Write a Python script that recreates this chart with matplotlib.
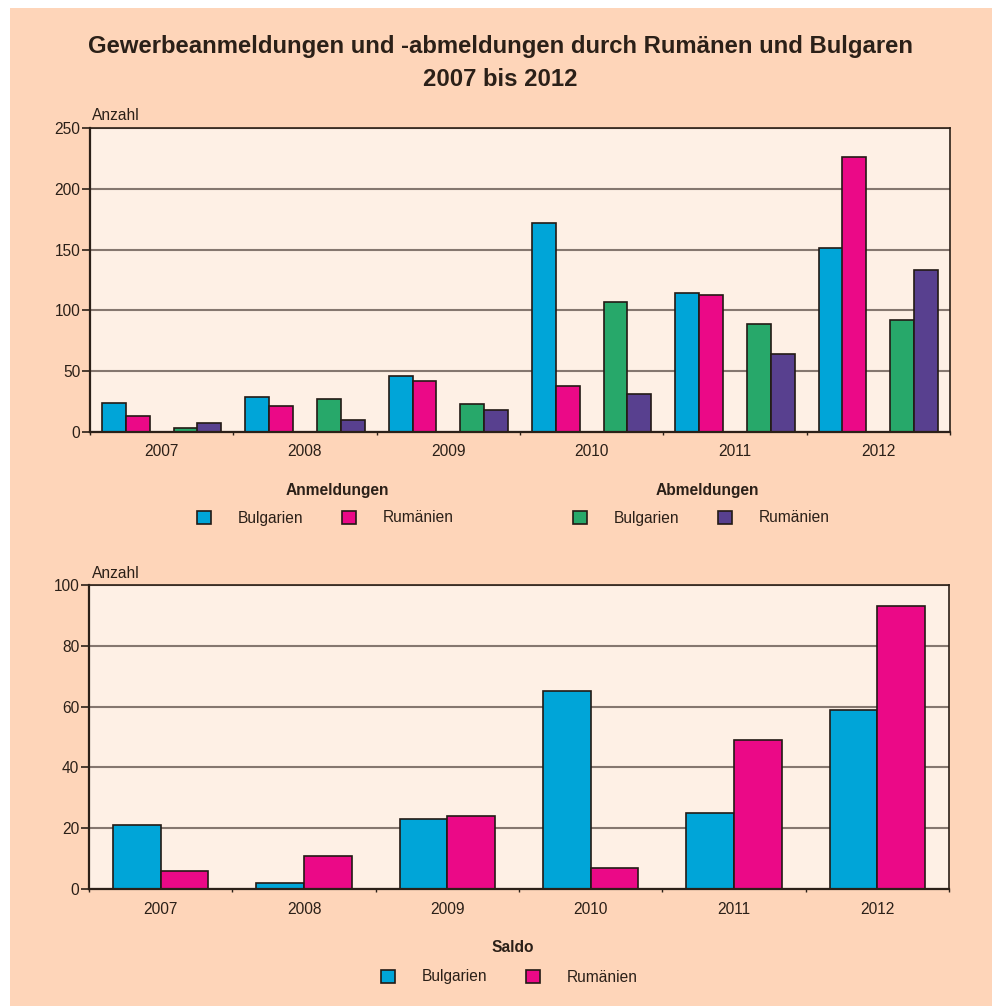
import matplotlib
matplotlib.use("Agg")
import matplotlib.pyplot as plt
import numpy as np
from matplotlib.patches import Patch, Rectangle

# ===== Data =====
YEARS = ["2007", "2008", "2009", "2010", "2011", "2012"]

ANM_BULGARIEN = [24, 29, 46, 172, 114, 151]
ANM_RUMAENIEN = [13, 21, 42, 38, 113, 226]
ABM_BULGARIEN = [3, 27, 23, 107, 89, 92]
ABM_RUMAENIEN = [7, 10, 18, 31, 64, 133]

SALDO_BULGARIEN = [21, 2, 23, 65, 25, 59]
SALDO_RUMAENIEN = [6, 11, 24, 7, 49, 93]

TOP_TICKS = [0, 50, 100, 150, 200, 250]
BOTTOM_TICKS = [0, 20, 40, 60, 80, 100]

# ===== Style =====
BLUE = "#00A5D8"
MAGENTA = "#EB0987"
GREEN = "#27A86A"
PURPLE = "#58408F"
PEACH = "#FED5B9"
PANEL = "#FEF0E5"
INK = "#2B2018"
EDGE = "#231A15"
GRID = "#85776F"

W, H = 992, 1006
FS = 11.2

plt.rcParams["font.family"] = ["Liberation Sans", "DejaVu Sans"]
plt.rcParams["text.color"] = INK

fig = plt.figure(figsize=(W / 100, H / 100), dpi=100, facecolor="white")
fig.patches.append(
    Rectangle((10 / W, 0), 1 - 10 / W, 1 - 8 / H, transform=fig.transFigure,
              facecolor=PEACH, edgecolor="none", zorder=-10)
)


def fx(px):
    return px / W


def fy(py):
    return 1 - py / H


def style_axes(ax, ticks):
    ax.set_facecolor(PANEL)
    ax.set_xlim(-0.5, len(YEARS) - 0.5)
    ax.set_ylim(ticks[0], ticks[-1])
    ax.set_yticks(ticks)
    ax.set_xticks(np.arange(len(YEARS)))
    ax.set_xticklabels(YEARS)
    ax.set_xticks(np.arange(len(YEARS) + 1) - 0.5, minor=True)
    ax.tick_params(axis="x", which="major", length=0, pad=9, labelsize=FS, colors=INK)
    ax.tick_params(axis="x", which="minor", length=2, width=1.0, color=INK)
    ax.tick_params(axis="y", length=6, width=1.2, pad=1, labelsize=FS, colors=INK)
    ax.yaxis.grid(True, color=GRID, linewidth=1.5)
    ax.set_axisbelow(True)
    for name, sp in ax.spines.items():
        sp.set_color(INK)
        sp.set_linewidth(1.6 if name in ("left", "bottom") else 1.2)
        sp.set_zorder(5)


def bar_kw(color):
    return dict(color=color, edgecolor=EDGE, linewidth=1.2, zorder=3)


def make_legend(colors, labels, x_px, y_px):
    handles = [Patch(facecolor=c, edgecolor=EDGE, linewidth=1.2) for c in colors]
    return fig.legend(
        handles, labels, loc="center left", bbox_to_anchor=(fx(x_px), fy(y_px)),
        bbox_transform=fig.transFigure, ncol=len(labels), frameon=False,
        fontsize=FS, handlelength=0.9, handleheight=0.9, handletextpad=1.7,
        columnspacing=2.5, borderpad=0, borderaxespad=0,
    )


x = np.arange(len(YEARS))

# ===== Top chart: Anmeldungen / Abmeldungen =====
ax1 = fig.add_axes([fx(90), fy(432), fx(950) - fx(90), fy(128) - fy(432)])
style_axes(ax1, TOP_TICKS)
w = 1 / 6
ax1.bar(x - 0.25 - w / 2, ANM_BULGARIEN, w, **bar_kw(BLUE))
ax1.bar(x - 0.25 + w / 2, ANM_RUMAENIEN, w, **bar_kw(MAGENTA))
ax1.bar(x + 0.25 - w / 2, ABM_BULGARIEN, w, **bar_kw(GREEN))
ax1.bar(x + 0.25 + w / 2, ABM_RUMAENIEN, w, **bar_kw(PURPLE))

fig.text(fx(92), fy(116), "Anzahl", fontsize=FS, ha="left", va="center")

fig.text(fx(337), fy(490), "Anmeldungen", fontsize=FS, fontweight="bold", ha="center", va="center")
fig.text(fx(707), fy(490), "Abmeldungen", fontsize=FS, fontweight="bold", ha="center", va="center")
make_legend([BLUE, MAGENTA], ["Bulgarien", "Rumänien"], 197, 518)
make_legend([GREEN, PURPLE], ["Bulgarien", "Rumänien"], 573, 518)

# ===== Bottom chart: Saldo =====
ax2 = fig.add_axes([fx(89), fy(889), fx(949) - fx(89), fy(585) - fy(889)])
style_axes(ax2, BOTTOM_TICKS)
w2 = 1 / 3
ax2.bar(x - w2 / 2, SALDO_BULGARIEN, w2, **bar_kw(BLUE))
ax2.bar(x + w2 / 2, SALDO_RUMAENIEN, w2, **bar_kw(MAGENTA))

fig.text(fx(92), fy(573), "Anzahl", fontsize=FS, ha="left", va="center")

fig.text(fx(513), fy(948), "Saldo", fontsize=FS, fontweight="bold", ha="center", va="center")
make_legend([BLUE, MAGENTA], ["Bulgarien", "Rumänien"], 381, 977)

# ===== Title =====
fig.text(fx(500), fy(47), "Gewerbeanmeldungen und -abmeldungen durch Rumänen und Bulgaren",
         fontsize=17.2, fontweight="bold", ha="center", va="center")
fig.text(fx(500), fy(79), "2007 bis 2012",
         fontsize=17.2, fontweight="bold", ha="center", va="center")

fig.savefig("out.png", dpi=100, facecolor=fig.get_facecolor())
